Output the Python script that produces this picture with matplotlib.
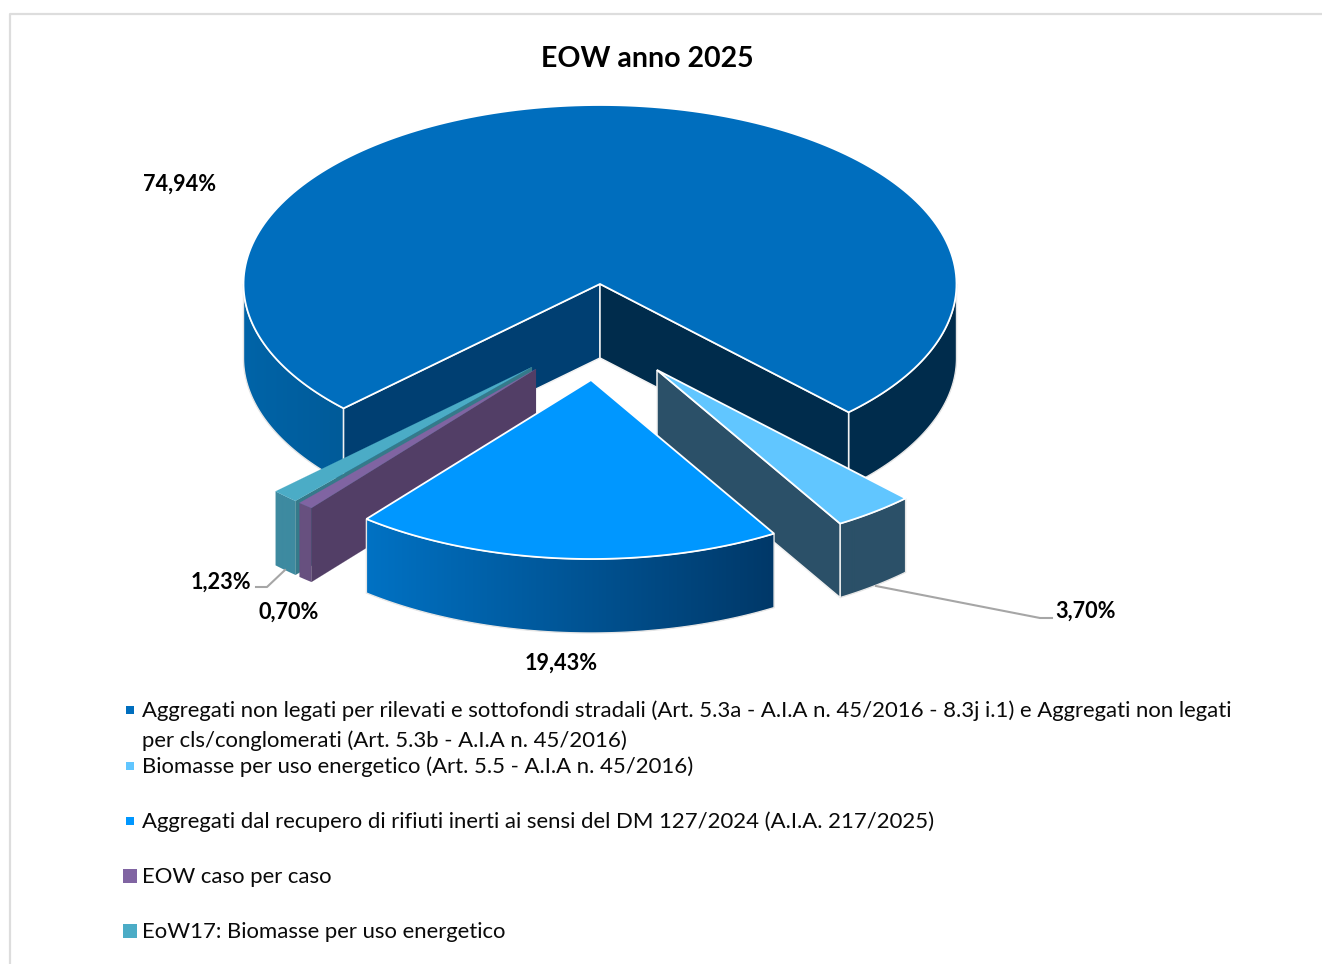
import numpy as np
import matplotlib
matplotlib.use('Agg')
import matplotlib.pyplot as plt
from matplotlib.patches import Polygon, Rectangle

plt.rcParams['font.family'] = ['Lato', 'DejaVu Sans']

title = 'EOW anno 2025'
values = [74.94, 3.70, 19.43, 0.70, 1.23]
value_labels = ['74,94%', '3,70%', '19,43%', '0,70%', '1,23%']
legend_labels = ['Aggregati non legati per rilevati e sottofondi stradali (Art. 5.3a - A.I.A n. 45/2016 - 8.3j i.1) e Aggregati non legati\nper cls/conglomerati (Art. 5.3b - A.I.A n. 45/2016)',
                 'Biomasse per uso energetico (Art. 5.5 - A.I.A n. 45/2016)',
                 'Aggregati dal recupero di rifiuti inerti ai sensi del DM 127/2024 (A.I.A. 217/2025)',
                 'EOW caso per caso',
                 'EoW17: Biomasse per uso energetico']

top_cols = ['#006EBE', '#61C6FF', '#0097FF', '#8064A2', '#4BACC6']
side_cols = [('#0064A8', '#002C4C'), ('#2B5068', '#2B5068'), ('#0072C4', '#003868'),
             ('#67507F', '#67507F'), ('#3E8AA0', '#3E8AA0')]
face_cols = [('#003F72', '#002C4C'), ('#2B5068', '#2B5068'), ('#003868', '#003868'),
             ('#523E66', '#523E66'), ('#357A8A', '#357A8A')]
# x range of the wall gradient, pixels
side_range = [(244, 849), (840, 906), (367, 775), (299, 312), (275, 296)]
# pull out of each slice, pixels
explode = [(0, 0), (57, 86), (-9, 96), (-64, 85), (-68, 83)]
edge_w = [1.3, 1.3, 1.3, 0, 0]
# main slice first, then back to front
draw_order = [0, 1, 4, 3, 2]

cx, cy = 600, 284
rx, ry = 356.5, 179
depth = 74
start_angle = -136.

fig = plt.figure(figsize=(13.22, 9.64), dpi=100)
ax = fig.add_axes([0, 0, 1, 1])
ax.set_xlim(0, 1322)
ax.set_ylim(964, 0)
ax.axis('off')

# frame of the chart area
ax.plot([9.5, 9.5, 1322], [964, 14, 14], color='#DDDDDD', lw=1.6)

z_count = [1]


def next_z():
    z_count[0] += 1
    return z_count[0]


def arc(a0, a1, ox, oy, dz=0):
    t = np.radians(np.linspace(a0, a1, 200))
    return np.c_[cx + ox + rx * np.cos(t), cy + oy + dz - ry * np.sin(t)]


def side(a0, a1, ox, oy, cols, xr, lw):
    top = arc(a0, a1, ox, oy)
    bot = arc(a0, a1, ox, oy, depth)[::-1]
    poly = Polygon(np.r_[top, bot], closed=True, fc='none', ec='none')
    ax.add_patch(poly)
    ramp = np.clip((np.arange(1322) + 0.5 - xr[0]) / (xr[1] - xr[0]), 0, 1)[None, :, None]
    c0 = np.array(matplotlib.colors.to_rgb(cols[0]))[None, None, :]
    c1 = np.array(matplotlib.colors.to_rgb(cols[1]))[None, None, :]
    im = ax.imshow(c0 * (1 - ramp) + c1 * ramp, extent=[0, 1322, 964, 0], aspect='auto', zorder=next_z())
    im.set_clip_path(poly)
    if lw > 0:
        ax.add_patch(Polygon(np.r_[top, bot], closed=True, fc='none', ec='#E6E6E6', lw=1.0, zorder=next_z()))
    ax.set_xlim(0, 1322)
    ax.set_ylim(964, 0)


angles = [start_angle]
for v in values:
    angles.append(angles[-1] - v / sum(values) * 360.)

for i in draw_order:
    a0, a1 = angles[i], angles[i + 1]
    ox, oy = explode[i]
    # outer wall, front half of the ellipse only
    for k in range(-2, 1):
        lo = max(a1, -180 + 360 * k)
        hi = min(a0, 0 + 360 * k)
        if hi > lo:
            side(hi, lo, ox, oy, side_cols[i], side_range[i], edge_w[i])
    # cut faces that look to the viewer
    ap = np.array([cx + ox, cy + oy])
    for a, col, vis in [(a0, face_cols[i][0], np.cos(np.radians(a0)) < 0),
                        (a1, face_cols[i][1], np.cos(np.radians(a1)) > 0)]:
        if vis:
            p = arc(a, a, ox, oy)[0]
            ax.add_patch(Polygon([ap, p, p + [0, depth], ap + [0, depth]], closed=True, fc=col,
                                 ec='#F2F2F2' if edge_w[i] else col, lw=max(edge_w[i] - 0.2, 0.1), zorder=next_z()))
    # top
    ax.add_patch(Polygon(np.r_[[ap], arc(a0, a1, ox, oy)], closed=True, fc=top_cols[i],
                         ec='white' if edge_w[i] else top_cols[i], lw=max(edge_w[i], 0.1),
                         joinstyle='miter', zorder=next_z()))

z = z_count[0] + 1
ax.text(647, 59, title, ha='center', va='center', fontsize=20.5, fontweight='bold', color='#000000', zorder=z)

label_pos = [(180, 184), (1086, 611), (561, 663), (289, 612), (221, 582)]
for lab, (x, y) in zip(value_labels, label_pos):
    ax.text(x, y, lab, ha='center', va='center', fontsize=15.6, fontweight='bold', color='#000000', zorder=z)

# leader lines
ax.plot([256, 267, 285], [587, 587, 570], color='#A6A6A6', lw=1.5, zorder=z)
ax.plot([876, 1040, 1052], [586, 618, 618], color='#A6A6A6', lw=1.5, zorder=z)

# legend
leg_y = [711, 767, 822, 877, 932]
leg_size = [8, 8, 8, 14, 14]
for lab, y, s, c in zip(legend_labels, leg_y, leg_size, top_cols):
    ax.add_patch(Rectangle((130 - s / 2, y - 1 - s / 2), s, s, fc=c, ec='none', zorder=z))
    for n, ln in enumerate(lab.split('\n')):
        ax.text(142, y + 29.5 * n, ln, ha='left', va='center', fontsize=15.9, color='#0A0A0A', zorder=z)

plt.savefig('out.png', dpi=100)
